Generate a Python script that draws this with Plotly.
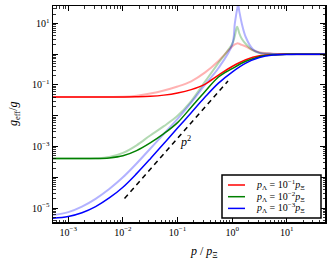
import plotly.graph_objects as go

# ---- data ----
p_grid = [5.0e-4, 1.0e-3, 1.78e-3, 3.16e-3, 5.62e-3, 1.0e-2, 1.78e-2, 3.16e-2, 5.62e-2, 0.1,
          0.178, 0.316, 0.562, 1.0, 1.78, 3.16, 5.62, 10, 17.8, 50]
g_red = [0.0407, 0.0407, 0.0407, 0.0407, 0.0407, 0.0407, 0.0412, 0.0427, 0.0468, 0.0550,
         0.0708, 0.105, 0.209, 0.398, 0.66, 0.89, 0.966, 0.991, 0.998, 1.0]
g_green = [4.07e-4, 4.07e-4, 4.07e-4, 4.07e-4, 4.27e-4, 5.0e-4, 7.4e-4, 1.32e-3, 2.63e-3, 6.0e-3,
           0.019, 0.060, 0.182, 0.339, 0.589, 0.832, 0.955, 0.989, 0.998, 1.0]
g_blue = [4.68e-6, 5.37e-6, 7.08e-6, 1.12e-5, 2.14e-5, 4.79e-5, 1.32e-4, 3.98e-4, 1.26e-3, 3.98e-3,
          0.0126, 0.0398, 0.115, 0.263, 0.513, 0.776, 0.933, 0.982, 0.995, 1.0]

p_light = [5.0e-4, 1.0e-3, 1.78e-3, 3.16e-3, 5.62e-3, 1.0e-2, 1.78e-2, 3.16e-2, 5.62e-2, 0.1,
           0.178, 0.316, 0.562, 1.0, 1.12, 1.23, 1.29, 1.35, 1.5, 1.78, 2.37, 3.16, 5.62, 10, 17.8, 50]
g_lred = [0.0407, 0.0407, 0.0407, 0.0407, 0.0407, 0.0412, 0.0447, 0.0525, 0.066, 0.089,
          0.132, 0.251, 0.603, 1.78, 2.09, 2.24, 2.24, 2.19, 2.0, 1.78, 1.35, 1.15, 1.035, 1.009, 1.002, 1.0]
g_lgreen = [4.07e-4, 4.07e-4, 4.07e-4, 4.17e-4, 4.57e-4, 6.2e-4, 1.1e-3, 2.29e-3, 4.6e-3, 1.0e-2,
            0.030, 0.126, 0.525, 2.14, 3.98, 7.76, 6.46, 4.79, 3.16, 2.14, 1.35, 1.10, 1.023, 1.007, 1.002, 1.0]
g_lblue = [5.89e-6, 7.41e-6, 1.12e-5, 2.0e-5, 4.17e-5, 1.0e-4, 2.82e-4, 8.5e-4, 2.57e-3, 7.94e-3,
           0.0269, 0.10, 0.355, 2.0, 10.0, 28.0, 40.0, 25.0, 10.0, 3.55, 1.48, 1.10, 1.018, 1.005, 1.001, 1.0]

p_slope = [0.0107, 0.84]
g_slope = [2.04e-5, 0.135]

legend_names = ["<i>p</i><sub>Λ</sub> = 10<sup>−1</sup><i>p</i><sub>Ξ</sub>",
                "<i>p</i><sub>Λ</sub> = 10<sup>−2</sup><i>p</i><sub>Ξ</sub>",
                "<i>p</i><sub>Λ</sub> = 10<sup>−3</sup><i>p</i><sub>Ξ</sub>"]

x_tickvals = [1e-3, 1e-2, 1e-1, 1, 10]
x_ticktext = ["10<sup>−3</sup>", "10<sup>−2</sup>", "10<sup>−1</sup>", "10<sup>0</sup>", "10<sup>1</sup>"]
y_tickvals = [1e-5, 1e-4, 1e-3, 1e-2, 1e-1, 1, 10]
y_ticktext = ["10<sup>−5</sup>", "", "10<sup>−3</sup>", "", "10<sup>−1</sup>", "", "10<sup>1</sup>"]

FONT = "Liberation Serif"
RED, GREEN, BLUE = "#ff0000", "#008000", "#0000ff"
COLORS = [RED, GREEN, BLUE]

fig = go.Figure()
for gy, c in zip([g_lred, g_lgreen, g_lblue], COLORS):
    fig.add_trace(go.Scatter(x=p_light, y=gy, mode="lines",
                             line=dict(color=c, width=2, shape="spline", smoothing=1.0),
                             opacity=0.3, showlegend=False, hoverinfo="skip"))
for gy, c, name in zip([g_red, g_green, g_blue], COLORS, legend_names):
    fig.add_trace(go.Scatter(x=p_grid, y=gy, mode="lines", name=name, showlegend=False,
                             line=dict(color=c, width=1.5, shape="spline", smoothing=1.0)))
fig.add_trace(go.Scatter(x=p_slope, y=g_slope, mode="lines", showlegend=False,
                         line=dict(color="black", width=1.5, dash="5px,4px")))

minor_x = [m * 10 ** e for e in range(-4, 2) for m in range(2, 10)]
minor_y = [m * 10 ** e for e in range(-6, 2) for m in range(2, 10)]

axis_common = dict(type="log", showgrid=False, zeroline=False, showline=True, linecolor="black",
                   linewidth=1.5, mirror="allticks", ticks="inside", ticklen=5, tickwidth=1,
                   tickcolor="black", automargin=False,
                   tickfont=dict(family=FONT, size=10, color="black"))
fig.update_xaxes(**axis_common, range=[-3.28, 1.70], tickmode="array", tickvals=x_tickvals,
                 ticktext=x_ticktext,
                 minor=dict(tickmode="array", tickvals=minor_x, ticks="inside", ticklen=2.5,
                            tickcolor="black", tickwidth=0.8, showgrid=False))
fig.update_yaxes(**axis_common, range=[-5.45, 1.565], tickmode="array", tickvals=y_tickvals,
                 ticktext=y_ticktext,
                 minor=dict(tickmode="array", tickvals=minor_y, ticks="inside", ticklen=2.5,
                            tickcolor="black", tickwidth=0.8, showgrid=False))

# plot area in pixels: x 53..325, y 6..222
def px(xp):
    return (xp - 53) / 272.0

def py(yp):
    return (222 - yp) / 216.0

fig.add_annotation(x=-0.86, y=-2.82, xref="x", yref="y", text="<i>p</i><sup>2</sup>", showarrow=False,
                   font=dict(family=FONT, size=12, color="black"))
fig.add_annotation(x=px(204), y=py(252), xref="paper", yref="paper",
                   text="<i>p</i> / <i>p</i><sub>Ξ</sub>", showarrow=False,
                   xanchor="center", yanchor="middle", font=dict(family=FONT, size=12, color="black"))
fig.add_annotation(x=px(14), y=0.5, xref="paper", yref="paper",
                   text="<i>g</i><sub>eff</sub>/<i>g</i>", textangle=-90, showarrow=False,
                   font=dict(family=FONT, size=12, color="black"), xanchor="center", yanchor="middle")

# legend box drawn as shapes + text
fig.add_shape(type="rect", xref="paper", yref="paper", x0=px(222), x1=px(321), y0=py(218), y1=py(175),
              line=dict(color="black", width=1.5), fillcolor="white", layer="above")
for i, (c, name) in enumerate(zip(COLORS, legend_names)):
    yy = py(185 + 11.7 * i)
    fig.add_shape(type="line", xref="paper", yref="paper", x0=px(228), x1=px(245), y0=yy, y1=yy,
                  line=dict(color=c, width=1.5), layer="above")
    fig.add_annotation(x=px(254), y=yy, xref="paper", yref="paper", text=name, showarrow=False,
                       xanchor="left", yanchor="middle", font=dict(family=FONT, size=10, color="black"))

fig.update_layout(
    width=332, height=266, margin=dict(l=53, r=7, t=6, b=44, autoexpand=False),
    paper_bgcolor="white", plot_bgcolor="white", showlegend=False,
)
fig.write_html("out.html", config={"displayModeBar": False, "staticPlot": True},
               post_script="document.body.style.margin='0px';document.body.style.overflow='hidden';")
